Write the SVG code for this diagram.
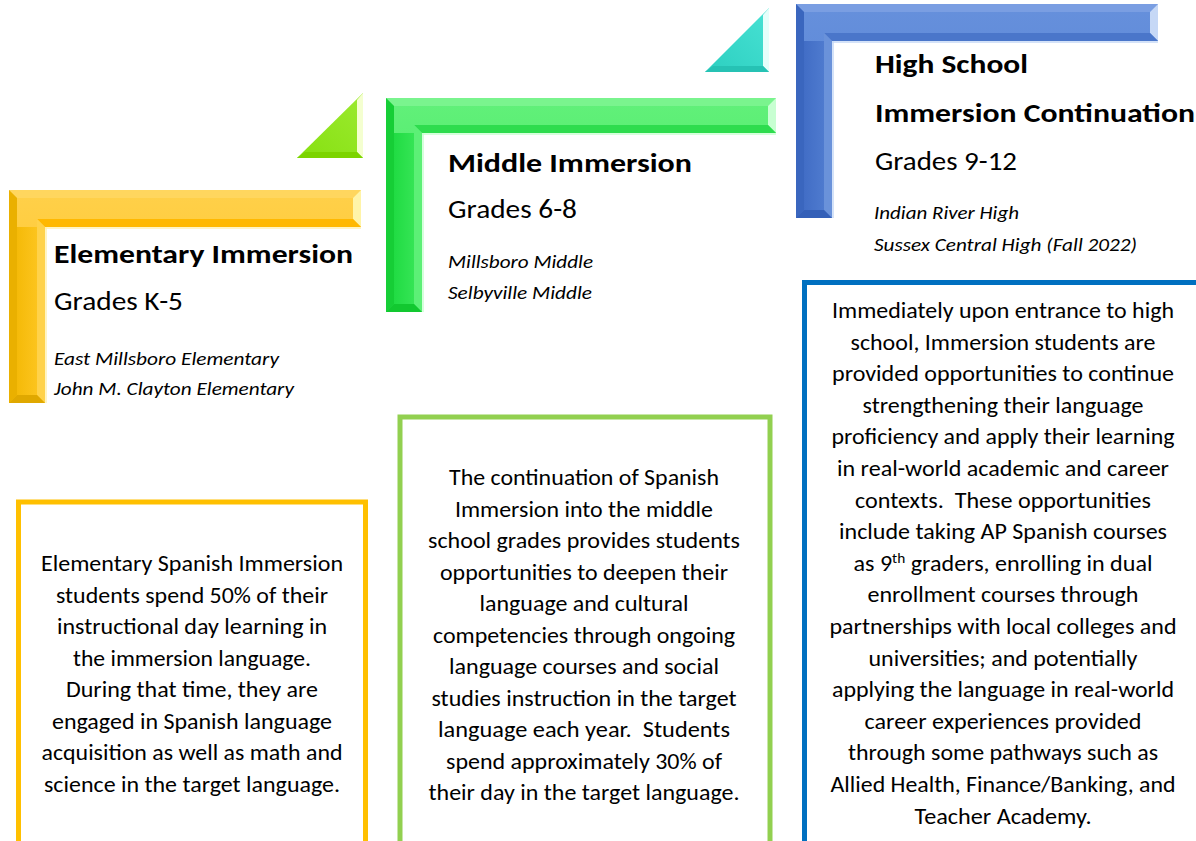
<svg xmlns="http://www.w3.org/2000/svg" width="1196" height="841" viewBox="0 0 1196 841">
<style>
text{font-family:Carlito,Lato,"Liberation Sans",sans-serif;fill:#000}
.h{font-weight:bold;font-size:26px}
.g{font-size:26px}
.i{font-style:italic;font-size:18px}
.b{font-size:22px;text-anchor:middle}
.box{fill:#fff;stroke-width:5}
</style>
<defs>
<linearGradient id="yTop" x1="0" y1="0" x2="0" y2="1"><stop offset="0" stop-color="#FFD04A"/><stop offset="1" stop-color="#FFC21A"/></linearGradient>
<linearGradient id="yLeft" x1="0" y1="0" x2="1" y2="0"><stop offset="0" stop-color="#F2B600"/><stop offset="1" stop-color="#FFC826"/></linearGradient>
<linearGradient id="gTop" x1="0" y1="0" x2="0" y2="1"><stop offset="0" stop-color="#62F07A"/><stop offset="1" stop-color="#3DE85C"/></linearGradient>
<linearGradient id="gLeft" x1="0" y1="0" x2="1" y2="0"><stop offset="0" stop-color="#18D83C"/><stop offset="1" stop-color="#3DE85C"/></linearGradient>
<linearGradient id="bTop" x1="0" y1="0" x2="0" y2="1"><stop offset="0" stop-color="#6690DC"/><stop offset="1" stop-color="#5280D2"/></linearGradient>
<linearGradient id="bLeft" x1="0" y1="0" x2="1" y2="0"><stop offset="0" stop-color="#3C68C2"/><stop offset="1" stop-color="#5480D2"/></linearGradient>
<linearGradient id="limeG" x1="0" y1="1" x2="1" y2="0"><stop offset="0" stop-color="#86E010"/><stop offset="1" stop-color="#9CEA30"/></linearGradient>
<linearGradient id="tealG" x1="0" y1="1" x2="1" y2="0"><stop offset="0" stop-color="#2CCFC0"/><stop offset="1" stop-color="#48E2D4"/></linearGradient>
</defs>

<g id="triangle-lime">
<polygon points="297,158 363,93 363,158" fill="url(#limeG)"/>
<polygon points="357,100 363,93 363,158 357,152" fill="#F4FFD0"/>
<polygon points="297,158 363,158 357,152 305,152" fill="#7CD400"/>
</g>
<g id="triangle-teal">
<polygon points="705,72 769,8 769,72" fill="url(#tealG)"/>
<polygon points="763,15 769,8 769,72 763,66" fill="#E6FFFB"/>
<polygon points="705,72 769,72 763,66 713,66" fill="#26C2B4"/>
</g>

<g id="frame-elementary">
<polygon points="9,190 361,190 361,227 45,227 45,403 9,403" fill="url(#yTop)"/>
<polygon points="9,227 45,227 45,403 9,403" fill="url(#yLeft)"/>
<polygon points="9,190 361,190 353,198 17,198" fill="#FFD65E"/>
<polygon points="361,190 361,227 353,219 353,198" fill="#FFF4A8"/>
<polygon points="361,227 45,227 37,219 353,219" fill="#FFB800"/>
<polygon points="45,227 45,403 37,395 37,219" fill="#FFD24A"/>
<polygon points="45,403 9,403 17,395 37,395" fill="#E0A800"/>
<polygon points="9,403 9,190 17,198 17,395" fill="#EAB000"/>
<line x1="45" y1="228" x2="361" y2="228" stroke="#FFF0B0" stroke-width="1.5"/>
<line x1="46" y1="227" x2="46" y2="403" stroke="#FFF0B0" stroke-width="1.5"/>
</g>

<g id="frame-middle">
<polygon points="386,98 776,98 776,133 422,133 422,312 386,312" fill="url(#gTop)"/>
<polygon points="386,133 422,133 422,312 386,312" fill="url(#gLeft)"/>
<polygon points="386,98 776,98 768,106 394,106" fill="#7AF48E"/>
<polygon points="776,98 776,133 768,125 768,106" fill="#C8FFD2"/>
<polygon points="776,133 422,133 414,125 768,125" fill="#2EDC4E"/>
<polygon points="422,133 422,312 414,304 414,125" fill="#5CF076"/>
<polygon points="422,312 386,312 394,304 414,304" fill="#12C830"/>
<polygon points="386,312 386,98 394,106 394,304" fill="#16CE36"/>
<line x1="422" y1="134" x2="776" y2="134" stroke="#C8FFD0" stroke-width="1.5"/>
<line x1="423" y1="133" x2="423" y2="312" stroke="#C8FFD0" stroke-width="1.5"/>
</g>

<g id="frame-high">
<polygon points="796,4 1158,4 1158,41 832,41 832,218 796,218" fill="url(#bTop)"/>
<polygon points="796,41 832,41 832,218 796,218" fill="url(#bLeft)"/>
<polygon points="796,4 1158,4 1150,12 804,12" fill="#7A9EE2"/>
<polygon points="1158,4 1158,41 1150,33 1150,12" fill="#C6D8F6"/>
<polygon points="1158,41 832,41 824,33 1150,33" fill="#4A76CA"/>
<polygon points="832,41 832,218 824,210 824,33" fill="#6A92DA"/>
<polygon points="832,218 796,218 804,210 824,210" fill="#3460B8"/>
<polygon points="796,218 796,4 804,12 804,210" fill="#3A66BE"/>
<line x1="832" y1="42" x2="1158" y2="42" stroke="#C6D8F6" stroke-width="1.5"/>
<line x1="833" y1="41" x2="833" y2="218" stroke="#C6D8F6" stroke-width="1.5"/>
</g>

<g id="label-elementary">
<text class="h" x="54" y="263" textLength="299" lengthAdjust="spacingAndGlyphs">Elementary Immersion</text>
<text class="g" x="54" y="310" textLength="129" lengthAdjust="spacingAndGlyphs">Grades K-5</text>
<text class="i" x="54" y="365" textLength="225" lengthAdjust="spacingAndGlyphs">East Millsboro Elementary</text>
<text class="i" x="54" y="395" textLength="240" lengthAdjust="spacingAndGlyphs">John M. Clayton Elementary</text>
</g>
<g id="label-middle">
<text class="h" x="448" y="172" textLength="244" lengthAdjust="spacingAndGlyphs">Middle Immersion</text>
<text class="g" x="448" y="218" textLength="129" lengthAdjust="spacingAndGlyphs">Grades 6-8</text>
<text class="i" x="448" y="268" textLength="145" lengthAdjust="spacingAndGlyphs">Millsboro Middle</text>
<text class="i" x="448" y="299" textLength="144" lengthAdjust="spacingAndGlyphs">Selbyville Middle</text>
</g>
<g id="label-high">
<text class="h" x="875" y="73" textLength="153" lengthAdjust="spacingAndGlyphs">High School</text>
<text class="h" x="875" y="122" textLength="320" lengthAdjust="spacingAndGlyphs">Immersion Continuation</text>
<text class="g" x="875" y="170" textLength="142" lengthAdjust="spacingAndGlyphs">Grades 9-12</text>
<text class="i" x="874" y="219" textLength="145" lengthAdjust="spacingAndGlyphs">Indian River High</text>
<text class="i" x="874" y="251" textLength="263" lengthAdjust="spacingAndGlyphs">Sussex Central High (Fall 2022)</text>
</g>

<g id="box-elementary">
<rect class="box" x="18.5" y="502" width="347" height="400" stroke="#FFC000"/>
<text class="b" x="192" y="571" textLength="302" lengthAdjust="spacingAndGlyphs">Elementary Spanish Immersion</text>
<text class="b" x="192" y="602.5" textLength="272" lengthAdjust="spacingAndGlyphs">students spend 50% of their</text>
<text class="b" x="192" y="634" textLength="270" lengthAdjust="spacingAndGlyphs">instructional day learning in</text>
<text class="b" x="192" y="665.5" textLength="238" lengthAdjust="spacingAndGlyphs">the immersion language.</text>
<text class="b" x="192" y="697" textLength="252" lengthAdjust="spacingAndGlyphs">During that time, they are</text>
<text class="b" x="192" y="728.5" textLength="280" lengthAdjust="spacingAndGlyphs">engaged in Spanish language</text>
<text class="b" x="192" y="760" textLength="301" lengthAdjust="spacingAndGlyphs">acquisition as well as math and</text>
<text class="b" x="192" y="791.5" textLength="296" lengthAdjust="spacingAndGlyphs">science in the target language.</text>
</g>

<g id="box-middle">
<rect class="box" x="400" y="417" width="370" height="500" stroke="#92D050"/>
<text class="b" x="584" y="485" textLength="270" lengthAdjust="spacingAndGlyphs">The continuation of Spanish</text>
<text class="b" x="584" y="516.5" textLength="258" lengthAdjust="spacingAndGlyphs">Immersion into the middle</text>
<text class="b" x="584" y="548" textLength="312" lengthAdjust="spacingAndGlyphs">school grades provides students</text>
<text class="b" x="584" y="579.5" textLength="288" lengthAdjust="spacingAndGlyphs">opportunities to deepen their</text>
<text class="b" x="584" y="611" textLength="209" lengthAdjust="spacingAndGlyphs">language and cultural</text>
<text class="b" x="584" y="642.5" textLength="302" lengthAdjust="spacingAndGlyphs">competencies through ongoing</text>
<text class="b" x="584" y="674" textLength="270" lengthAdjust="spacingAndGlyphs">language courses and social</text>
<text class="b" x="584" y="705.5" textLength="305" lengthAdjust="spacingAndGlyphs">studies instruction in the target</text>
<text class="b" x="584" y="737" textLength="292" lengthAdjust="spacingAndGlyphs" xml:space="preserve">language each year.  Students</text>
<text class="b" x="584" y="768.5" textLength="276" lengthAdjust="spacingAndGlyphs">spend approximately 30% of</text>
<text class="b" x="584" y="800" textLength="311" lengthAdjust="spacingAndGlyphs">their day in the target language.</text>
</g>

<g id="box-high">
<rect class="box" x="804.5" y="282.5" width="500" height="600" stroke="#0070C0"/>
<text class="b" x="1003" y="318" textLength="342" lengthAdjust="spacingAndGlyphs">Immediately upon entrance to high</text>
<text class="b" x="1003" y="349.6" textLength="305" lengthAdjust="spacingAndGlyphs">school, Immersion students are</text>
<text class="b" x="1003" y="381.2" textLength="342" lengthAdjust="spacingAndGlyphs">provided opportunities to continue</text>
<text class="b" x="1003" y="412.8" textLength="281" lengthAdjust="spacingAndGlyphs">strengthening their language</text>
<text class="b" x="1003" y="444.4" textLength="343" lengthAdjust="spacingAndGlyphs">proficiency and apply their learning</text>
<text class="b" x="1003" y="476" textLength="332" lengthAdjust="spacingAndGlyphs">in real-world academic and career</text>
<text class="b" x="1003" y="507.6" textLength="296" lengthAdjust="spacingAndGlyphs" xml:space="preserve">contexts.  These opportunities</text>
<text class="b" x="1003" y="539.2" textLength="328" lengthAdjust="spacingAndGlyphs">include taking AP Spanish courses</text>
<text class="b" x="1003" y="570.8" textLength="299" lengthAdjust="spacingAndGlyphs">as 9<tspan font-size="14" dy="-8">th</tspan><tspan dy="8"> graders, enrolling in dual</tspan></text>
<text class="b" x="1003" y="602.4" textLength="271" lengthAdjust="spacingAndGlyphs">enrollment courses through</text>
<text class="b" x="1003" y="634" textLength="347" lengthAdjust="spacingAndGlyphs">partnerships with local colleges and</text>
<text class="b" x="1003" y="665.6" textLength="269" lengthAdjust="spacingAndGlyphs">universities; and potentially</text>
<text class="b" x="1003" y="697.2" textLength="342" lengthAdjust="spacingAndGlyphs">applying the language in real-world</text>
<text class="b" x="1003" y="728.8" textLength="277" lengthAdjust="spacingAndGlyphs">career experiences provided</text>
<text class="b" x="1003" y="760.4" textLength="310" lengthAdjust="spacingAndGlyphs">through some pathways such as</text>
<text class="b" x="1003" y="792" textLength="345" lengthAdjust="spacingAndGlyphs">Allied Health, Finance/Banking, and</text>
<text class="b" x="1003" y="823.6" textLength="177" lengthAdjust="spacingAndGlyphs">Teacher Academy.</text>
</g>
</svg>
